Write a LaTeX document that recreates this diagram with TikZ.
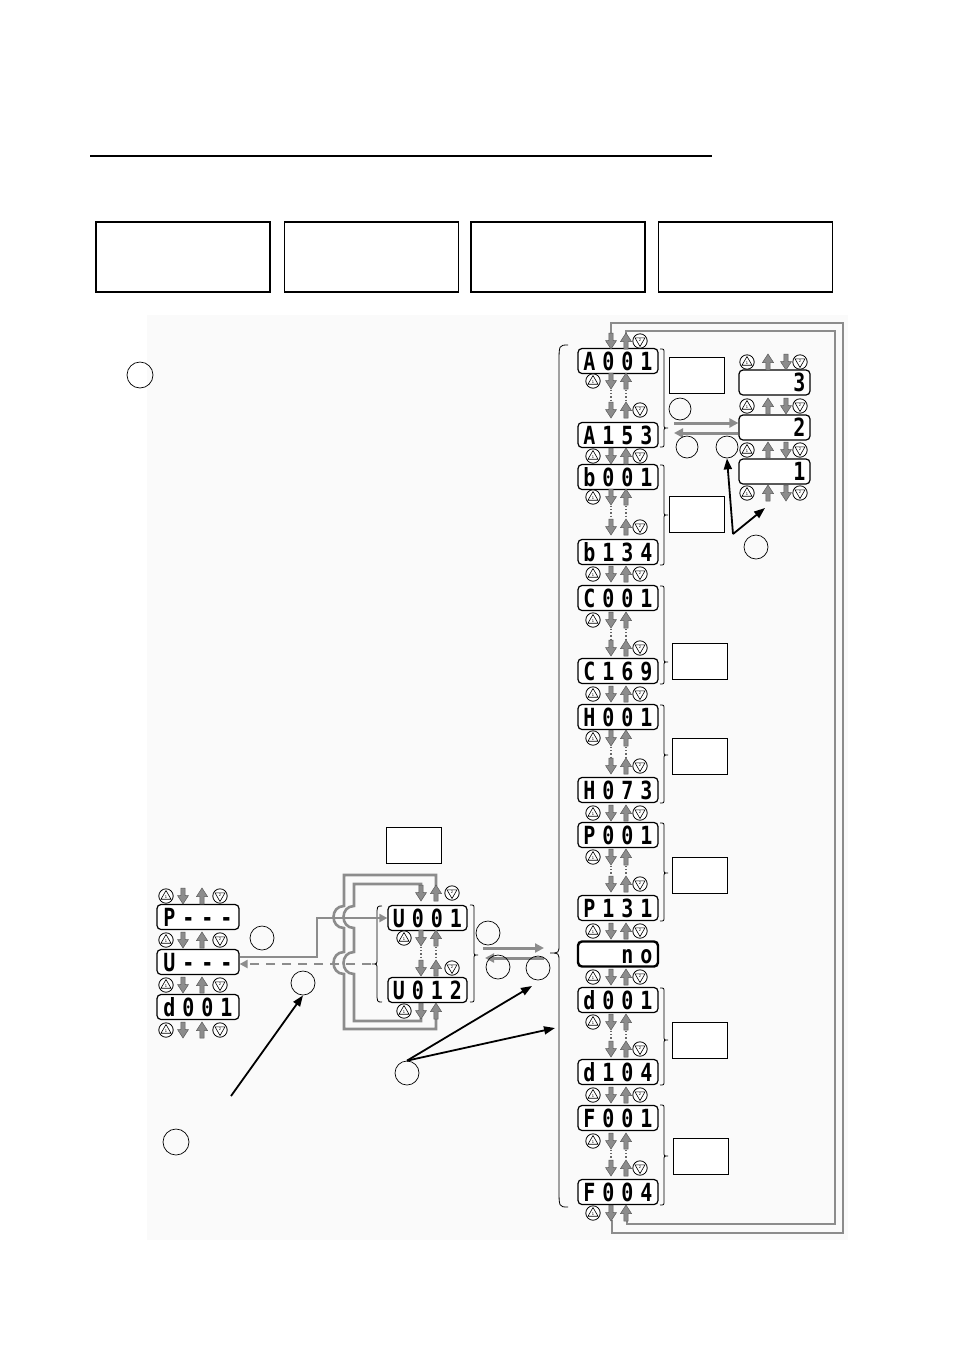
\documentclass[tikz,border=0pt]{standalone}
\usepackage{fontspec}
\setmainfont{Liberation Sans}
\newfontfamily\segfont[FakeStretch=0.8]{DejaVu Sans Mono}
\usetikzlibrary{arrows.meta,calc}
\newcommand\sd[1]{\makebox[19pt]{#1}}
\newcommand\RowAll[1]{\pic at (593,#1) {kone}; \pic at (611,#1) {kdn}; \pic at (626,#1) {kup}; \pic at (640,#1) {ktwo};}
\newcommand\RowLo[1]{\pic at (593,#1) {kone}; \pic at (611,#1) {kdn}; \pic at (626,#1) {kup};}
\newcommand\RowHi[1]{\pic at (611,#1) {kdn}; \pic at (626,#1) {kup}; \pic at (640,#1) {ktwo};}
\newcommand\RowDots[2]{\draw[dotsty] (611,#1) -- (611,#2) (626,#1) -- (626,#2);}
\newcommand\URowLo[1]{\pic at (404,#1) {kone}; \pic at (421,#1) {kdn}; \pic at (436,#1) {kup};}
\newcommand\URowHi[1]{\pic at (421,#1) {kdn}; \pic at (436,#1) {kup}; \pic at (452,#1) {ktwo};}
\newcommand\LRow[1]{\pic at (166,#1) {kone}; \pic at (183,#1) {kdn}; \pic at (202,#1) {kup}; \pic at (220,#1) {ktwo};}
\newcommand\NRow[1]{\pic at (747,#1) {kone}; \pic at (768,#1) {kup}; \pic at (786,#1) {kdn}; \pic at (800,#1) {ktwo};}
% brace opening to the left: x, ytop, ybot, ytip, depth
\newcommand\RBrace[5]{\draw[brsty] (#1,#2) .. controls ({#1+#5},#2) .. ({#1+#5},{#2+#5}) -- ({#1+#5},{#4-#5}) .. controls ({#1+#5},#4) .. ({#1+2*#5},#4) .. controls ({#1+#5},#4) .. ({#1+#5},{#4+#5}) -- ({#1+#5},{#3-#5}) .. controls ({#1+#5},#3) .. (#1,#3);}
\newcommand\LBrace[5]{\draw[brsty] (#1,#2) .. controls ({#1-#5},#2) .. ({#1-#5},{#2+2*#5}) -- ({#1-#5},{#4-#5}) .. controls ({#1-#5},#4) .. ({#1-2*#5},#4) .. controls ({#1-#5},#4) .. ({#1-#5},{#4+#5}) -- ({#1-#5},{#3-2*#5}) .. controls ({#1-#5},#3) .. (#1,#3);}
\tikzset{
  disp/.style={draw, line width=1.2pt, rounded corners=4pt, minimum width=80pt, minimum height=25pt,
    inner sep=0pt, text height=18.5pt, text depth=0pt, fill=white,
    font=\segfont\bfseries\fontsize{25}{25}\selectfont},
  lbl/.style={draw, line width=0.9pt, minimum width=55pt, minimum height=36pt, inner sep=0pt, fill=white},
  hdbox/.style={draw, line width=1.3pt, minimum width=174pt, minimum height=70pt, inner sep=0pt},
  callout/.style={draw, circle, line width=0.7pt, inner sep=0pt, minimum size=24pt},
  brsty/.style={line width=0.8pt},
  dotsty/.style={dotted, black!60, line width=1.2pt},
  loopln/.style={draw=black!45, line width=2.6pt},
  grayarr/.style={draw=black!45, line width=3pt, -{Triangle[length=9pt,width=9pt]}},
  blk/.style={line width=1.8pt, -{Triangle[length=11pt,width=8pt]}},
  kdn/.pic={\path[fill=black!45, draw=black!65, line width=0.5pt] (-2.2,-8) -- (2.2,-8) -- (2.2,-0.5) -- (5.5,-0.5) -- (0,8) -- (-5.5,-0.5) -- (-2.2,-0.5) -- cycle;},
  kup/.pic={\path[fill=black!45, draw=black!65, line width=0.5pt] (-2.2,8) -- (2.2,8) -- (2.2,0.5) -- (5.5,0.5) -- (0,-8) -- (-5.5,0.5) -- (-2.2,0.5) -- cycle;},
  kone/.pic={\draw[line width=0.8pt, fill=white] (0,0) circle[radius=7.2];
    \draw[line width=0.6pt] (0,-5.5) -- (5,3.2) -- (-5,3.2) -- cycle;
    \node[font=\fontsize{4}{4}\selectfont, inner sep=0pt] at (0,1) {1};},
  ktwo/.pic={\draw[line width=0.8pt, fill=white] (0,0) circle[radius=7.2];
    \draw[line width=0.6pt] (0,5.5) -- (5,-3.2) -- (-5,-3.2) -- cycle;
    \node[font=\fontsize{4}{4}\selectfont, inner sep=0pt] at (0,-1) {2};},
}
\begin{document}
\begin{tikzpicture}[x=1pt, y=-1pt]
\useasboundingbox[fill=white] (0,0) rectangle (954,1350);
% header
\coordinate (hl) at (90,156);
\coordinate (hr) at (712,156);
\draw[line width=2.6pt] (hl) -- (hr);
\node[hdbox] (h1) at (183,257) {};
\node[hdbox] (h2) at (371.5,257) {};
\node[hdbox] (h3) at (558,257) {};
\node[hdbox] (h4) at (745.5,257) {};
% panel
\fill[black!2] (147,315) rectangle (848,1240);
\node[callout, minimum size=26pt] (c0) at (140,375) {};
\node[callout, minimum size=26pt] (c9) at (176,1142) {};

% main loops
\coordinate (oT) at (843,323);
\coordinate (oB) at (843,1233);
\coordinate (iT) at (835,331);
\coordinate (iB) at (835,1224);
\draw[loopln] (611,334) -- (611,323) -- (oT) -- (oB) -- (612,1233) -- (612,1220);
\draw[loopln] (626,334) -- (626,331) -- (iT) -- (iB) -- (627,1224) -- (627,1220);

% ===== main column displays
\node[disp] (dA1) at (618,361) {\sd{A}\sd{0}\sd{0}\sd{1}};
\node[disp] (dA2) at (618,435) {\sd{A}\sd{1}\sd{5}\sd{3}};
\node[disp] (dB1) at (618,477) {\sd{b}\sd{0}\sd{0}\sd{1}};
\node[disp] (dB2) at (618,552) {\sd{b}\sd{1}\sd{3}\sd{4}};
\node[disp] (dC1) at (618,598) {\sd{C}\sd{0}\sd{0}\sd{1}};
\node[disp] (dC2) at (618,671) {\sd{C}\sd{1}\sd{6}\sd{9}};
\node[disp] (dH1) at (618,717) {\sd{H}\sd{0}\sd{0}\sd{1}};
\node[disp] (dH2) at (618,790) {\sd{H}\sd{0}\sd{7}\sd{3}};
\node[disp] (dP1) at (618,835) {\sd{P}\sd{0}\sd{0}\sd{1}};
\node[disp] (dP2) at (618,908) {\sd{P}\sd{1}\sd{3}\sd{1}};
\node[disp, line width=2.4pt] (dno) at (618,954) {\sd{}\sd{}\sd{n}\sd{o}};
\node[disp] (dD1) at (618,1000) {\sd{d}\sd{0}\sd{0}\sd{1}};
\node[disp] (dD2) at (618,1072) {\sd{d}\sd{1}\sd{0}\sd{4}};
\node[disp] (dF1) at (618,1118) {\sd{F}\sd{0}\sd{0}\sd{1}};
\node[disp] (dF2) at (618,1192) {\sd{F}\sd{0}\sd{0}\sd{4}};

% key rows main column
\RowHi{341}
\RowLo{381} \RowDots{390}{402} \RowHi{410}
\RowAll{456}
\RowLo{497} \RowDots{506}{518} \RowHi{527}
\RowAll{574}
\RowLo{620} \RowDots{629}{639} \RowHi{648}
\RowAll{694}
\RowLo{738} \RowDots{747}{757} \RowHi{766}
\RowAll{813}
\RowLo{857} \RowDots{866}{875} \RowHi{884}
\RowAll{931}
\RowAll{977}
\RowLo{1022} \RowDots{1031}{1040} \RowHi{1049}
\RowAll{1095}
\RowLo{1141} \RowDots{1150}{1159} \RowHi{1168}
\RowLo{1213}

% group braces and labels
\RBrace{660}{349}{447}{428}{4}
\RBrace{660}{465}{565}{515}{4}
\RBrace{660}{586}{684}{662}{4}
\RBrace{660}{705}{803}{755}{4}
\RBrace{660}{823}{921}{873}{4}
\RBrace{660}{988}{1085}{1040}{4}
\RBrace{660}{1105}{1205}{1156}{4}
\node[lbl] (lA) at (696.5,375.5) {};
\node[lbl] (lB) at (696.5,514) {};
\node[lbl] (lC) at (699.5,661.5) {};
\node[lbl] (lH) at (699.5,756) {};
\node[lbl] (lP) at (699.5,875) {};
\node[lbl] (lD) at (699.5,1040) {};
\node[lbl] (lF) at (700.5,1156) {};

% big brace
\LBrace{568}{345}{1207}{953}{9}
\coordinate (bigtip) at (550,953);

% ===== value column
\node[disp, minimum width=71pt] (n3) at (774.5,382.5) {\makebox[69pt][r]{\sd{3}}};
\node[disp, minimum width=71pt] (n2) at (774.5,427.5) {\makebox[69pt][r]{\sd{2}}};
\node[disp, minimum width=71pt] (n1) at (774.5,471.5) {\makebox[69pt][r]{\sd{1}}};
\NRow{362} \NRow{406} \NRow{450} \NRow{493}
\coordinate (aR1) at (674,423);
\coordinate (aR2) at (674,433);
\draw[grayarr] (aR1) -- (aR1 -| n2.west);
\draw[grayarr] (aR2 -| n2.west) -- (aR2);
\node[callout, minimum size=22pt] (cA1) at (680,409) {};
\node[callout, minimum size=22pt] (cA2) at (687,447) {};
\node[callout, minimum size=22pt] (cA3) at (727,447) {};
\node[callout] (cA4) at (756,547) {};
\coordinate (oA) at (733,534);
\coordinate (tA) at (765,508);
\draw[blk] (oA) -- (cA3.south);
\draw[blk] (oA) -- (tA);

% ===== left column
\node[disp, minimum width=82pt] (dLP) at (198,917) {\sd{P}\sd{-}\sd{-}\sd{-}};
\node[disp, minimum width=82pt] (dLU) at (198,962) {\sd{U}\sd{-}\sd{-}\sd{-}};
\node[disp, minimum width=82pt] (dLD) at (198,1007) {\sd{d}\sd{0}\sd{0}\sd{1}};
\LRow{896} \LRow{940} \LRow{985} \LRow{1030}
\node[callout] (cL1) at (262,938) {};
\node[callout] (cL2) at (303,983) {};

% ===== U group
% loops round U group with hops
\draw[loopln] (436,886) -- (436,875) -- (344,875) -- (344,906) .. controls (330,906) and (330,928) .. (344,928)
  -- (344,952) .. controls (330,952) and (330,974) .. (344,974) -- (344,1029) -- (436,1029) -- (436,1018);
\draw[loopln] (421,886) -- (421,884) -- (354,884) -- (354,906) .. controls (340,906) and (340,928) .. (354,928)
  -- (354,952) .. controls (340,952) and (340,974) .. (354,974) -- (354,1021) -- (421,1021) -- (421,1018);
\node[disp, minimum width=79pt] (dU1) at (427.5,918) {\sd{U}\sd{0}\sd{0}\sd{1}};
\node[disp, minimum width=79pt] (dU2) at (427.5,990) {\sd{U}\sd{0}\sd{1}\sd{2}};
\URowHi{893}
\URowLo{938} \draw[dotsty] (421,947) -- (421,959) (436,947) -- (436,959);
\URowHi{968}
\URowLo{1011}
\node[lbl] (lU) at (414,845.5) {};
\LBrace{382}{906}{1002}{964}{5}
\RBrace{470}{905}{1002}{955}{4}
\coordinate (uLtip) at (371,964);
% U--- to U001, and back
\draw[loopln, line width=2.2pt, -{Triangle[length=8pt,width=8pt]}] ($(dLU.east)+(0,-5)$) -- ++(77,0) |- (dU1.west);
\draw[draw=black!45, line width=2.2pt, dash pattern=on 9pt off 7pt, -{Triangle[length=8pt,width=8pt]}] (uLtip) -- (uLtip -| dLU.east);
% to main column
\coordinate (uR1) at (483,948);
\coordinate (uR2) at (485,958);
\draw[grayarr] (uR1) -- (544,948);
\draw[grayarr] (544,958) -- (uR2);
\node[callout] (cU1) at (488,933) {};
\node[callout] (cU2) at (498,967) {};
\node[callout] (cU3) at (538,968) {};
\node[callout] (cU4) at (407,1073) {};
\coordinate (tU1) at (532,986);
\coordinate (tU2) at (555,1028);
\draw[blk] (cU4.north) -- (tU1);
\draw[blk] (cU4.north) -- (tU2);
\coordinate (sL) at (231,1096);
\draw[blk] (sL) -- (cL2.south);
\end{tikzpicture}
\end{document}
